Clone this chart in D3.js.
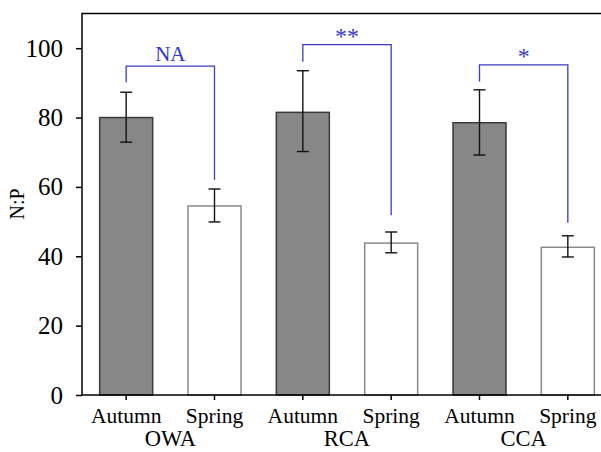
<!DOCTYPE html>
<meta charset="utf-8">
<title>N:P by season</title>
<style>
body { margin:0; background:#fff; }
svg text { font-family: "Liberation Serif", "Times New Roman", serif; }
.axis path, .axis line { stroke:#000; stroke-width:1.5px; }
.yaxis text { font-size:25px; fill:#000; }
.xaxis text { font-size:21.5px; fill:#000; }
</style>
<body>
<div id="chart"></div>
<script src="https://d3js.org/d3.v7.min.js"></script>
<script>
var sites = ["OWA", "RCA", "CCA"];
var seasons = ["Autumn", "Spring"];
var means = [80, 54.5, 81.5, 43.8, 78.5, 42.6];
var errUp = [87.3, 59.4, 93.5, 47, 88, 45.9];
var errLo = [72.9, 49.9, 70.2, 41, 69.2, 39.8];
var yTicks = [0, 20, 40, 60, 80, 100];
var sigLabels = ["NA", "**", "*"];
var sigTop = [94.8, 101, 95.2];
var sigLeftEnd = [90.2, 96.1, 90.4];
var sigRightEnd = [62.1, 51.8, 49.7];

var width = 601, height = 452;
var plotL = 82, plotB = 395, plotT = 13.5, plotR = 612;

var keys = [];
sites.forEach(function(s){ seasons.forEach(function(t){ keys.push(s + "|" + t); }); });

var x = d3.scaleBand().domain(keys).range([plotL, plotR])
    .paddingInner(0.4).paddingOuter(0.2);
var y = d3.scaleLinear().domain([0, 110]).range([plotB, plotT]);

var svg = d3.select("#chart").append("svg")
    .attr("width", width).attr("height", height);

// frame (right edge falls off the picture)
svg.append("path")
   .attr("d", "M" + plotL + "," + plotB + "V" + plotT + "H" + plotR)
   .attr("fill", "none").attr("stroke", "#000").attr("stroke-width", 1.5);

// bars
svg.selectAll(".bar").data(keys).enter().append("rect")
   .attr("class", "bar")
   .attr("x", function(d){ return x(d); })
   .attr("width", x.bandwidth())
   .attr("y", function(d,i){ return y(means[i]); })
   .attr("height", function(d,i){ return plotB - y(means[i]); })
   .attr("fill", function(d,i){ return i % 2 == 0 ? "#878787" : "#fff"; })
   .attr("stroke", function(d,i){ return i % 2 == 0 ? "#3a3a3a" : "#8a8a8a"; })
   .attr("stroke-width", 1.5);

// error bars
var eb = svg.selectAll(".err").data(keys).enter().append("g")
   .attr("class", "err")
   .attr("stroke", "#111").attr("stroke-width", 1.4);
eb.append("line")
  .attr("x1", function(d){ return x(d) + x.bandwidth()/2; })
  .attr("x2", function(d){ return x(d) + x.bandwidth()/2; })
  .attr("y1", function(d,i){ return y(errLo[i]); })
  .attr("y2", function(d,i){ return y(errUp[i]); });
[errLo, errUp].forEach(function(arr){
  eb.append("line")
    .attr("x1", function(d){ return x(d) + x.bandwidth()/2 - 6; })
    .attr("x2", function(d){ return x(d) + x.bandwidth()/2 + 6; })
    .attr("y1", function(d,i){ return y(arr[i]); })
    .attr("y2", function(d,i){ return y(arr[i]); });
});

// axes
var yAxis = svg.append("g").attr("class", "axis yaxis")
   .attr("transform", "translate(" + plotL + ",0)")
   .call(d3.axisLeft(y).tickValues(yTicks).tickSize(6).tickPadding(13).tickSizeOuter(0));
yAxis.select(".domain").remove();

var xAxis = svg.append("g").attr("class", "axis xaxis")
   .attr("transform", "translate(0," + plotB + ")")
   .call(d3.axisBottom(x).tickSize(5).tickSizeOuter(0).tickFormat(function(d){ return d.split("|")[1]; }));
xAxis.select(".domain").attr("d", "M" + plotL + ",0H" + plotR);
xAxis.selectAll("text").attr("dy", 0).attr("y", 28);

// site labels
svg.selectAll(".site").data(sites).enter().append("text")
   .attr("class", "site")
   .attr("x", function(d){ return (x(d + "|Autumn") + x(d + "|Spring") + x.bandwidth())/2; })
   .attr("y", 446)
   .attr("text-anchor", "middle")
   .style("font-size", "22.5px")
   .text(function(d){ return d; });

// y label
svg.append("text")
   .attr("transform", "translate(24,204)rotate(-90)")
   .attr("text-anchor", "middle")
   .style("font-size", "20px")
   .text("N:P");

// significance brackets
var br = svg.selectAll(".sig").data(sites).enter().append("g").attr("class", "sig");
br.append("path")
  .attr("fill", "none").attr("stroke", "#3b3bc4").attr("stroke-width", 1.3)
  .attr("d", function(d,i){
    var xa = x(d + "|Autumn") + x.bandwidth()/2, xs = x(d + "|Spring") + x.bandwidth()/2;
    return "M" + xa + "," + y(sigLeftEnd[i]) + "V" + y(sigTop[i]) + "H" + xs + "V" + y(sigRightEnd[i]);
  });
br.append("text")
  .attr("x", function(d){ return (x(d + "|Autumn") + x(d + "|Spring") + x.bandwidth())/2; })
  .attr("y", function(d,i){ return y(sigTop[i]) - (sigLabels[i] == "NA" ? 5 : 1); })
  .attr("text-anchor", "middle")
  .attr("fill", "#3535cc")
  .style("font-size", function(d,i){ return sigLabels[i] == "NA" ? "21px" : "24px"; })
  .text(function(d,i){ return sigLabels[i]; });
</script>
</body>
